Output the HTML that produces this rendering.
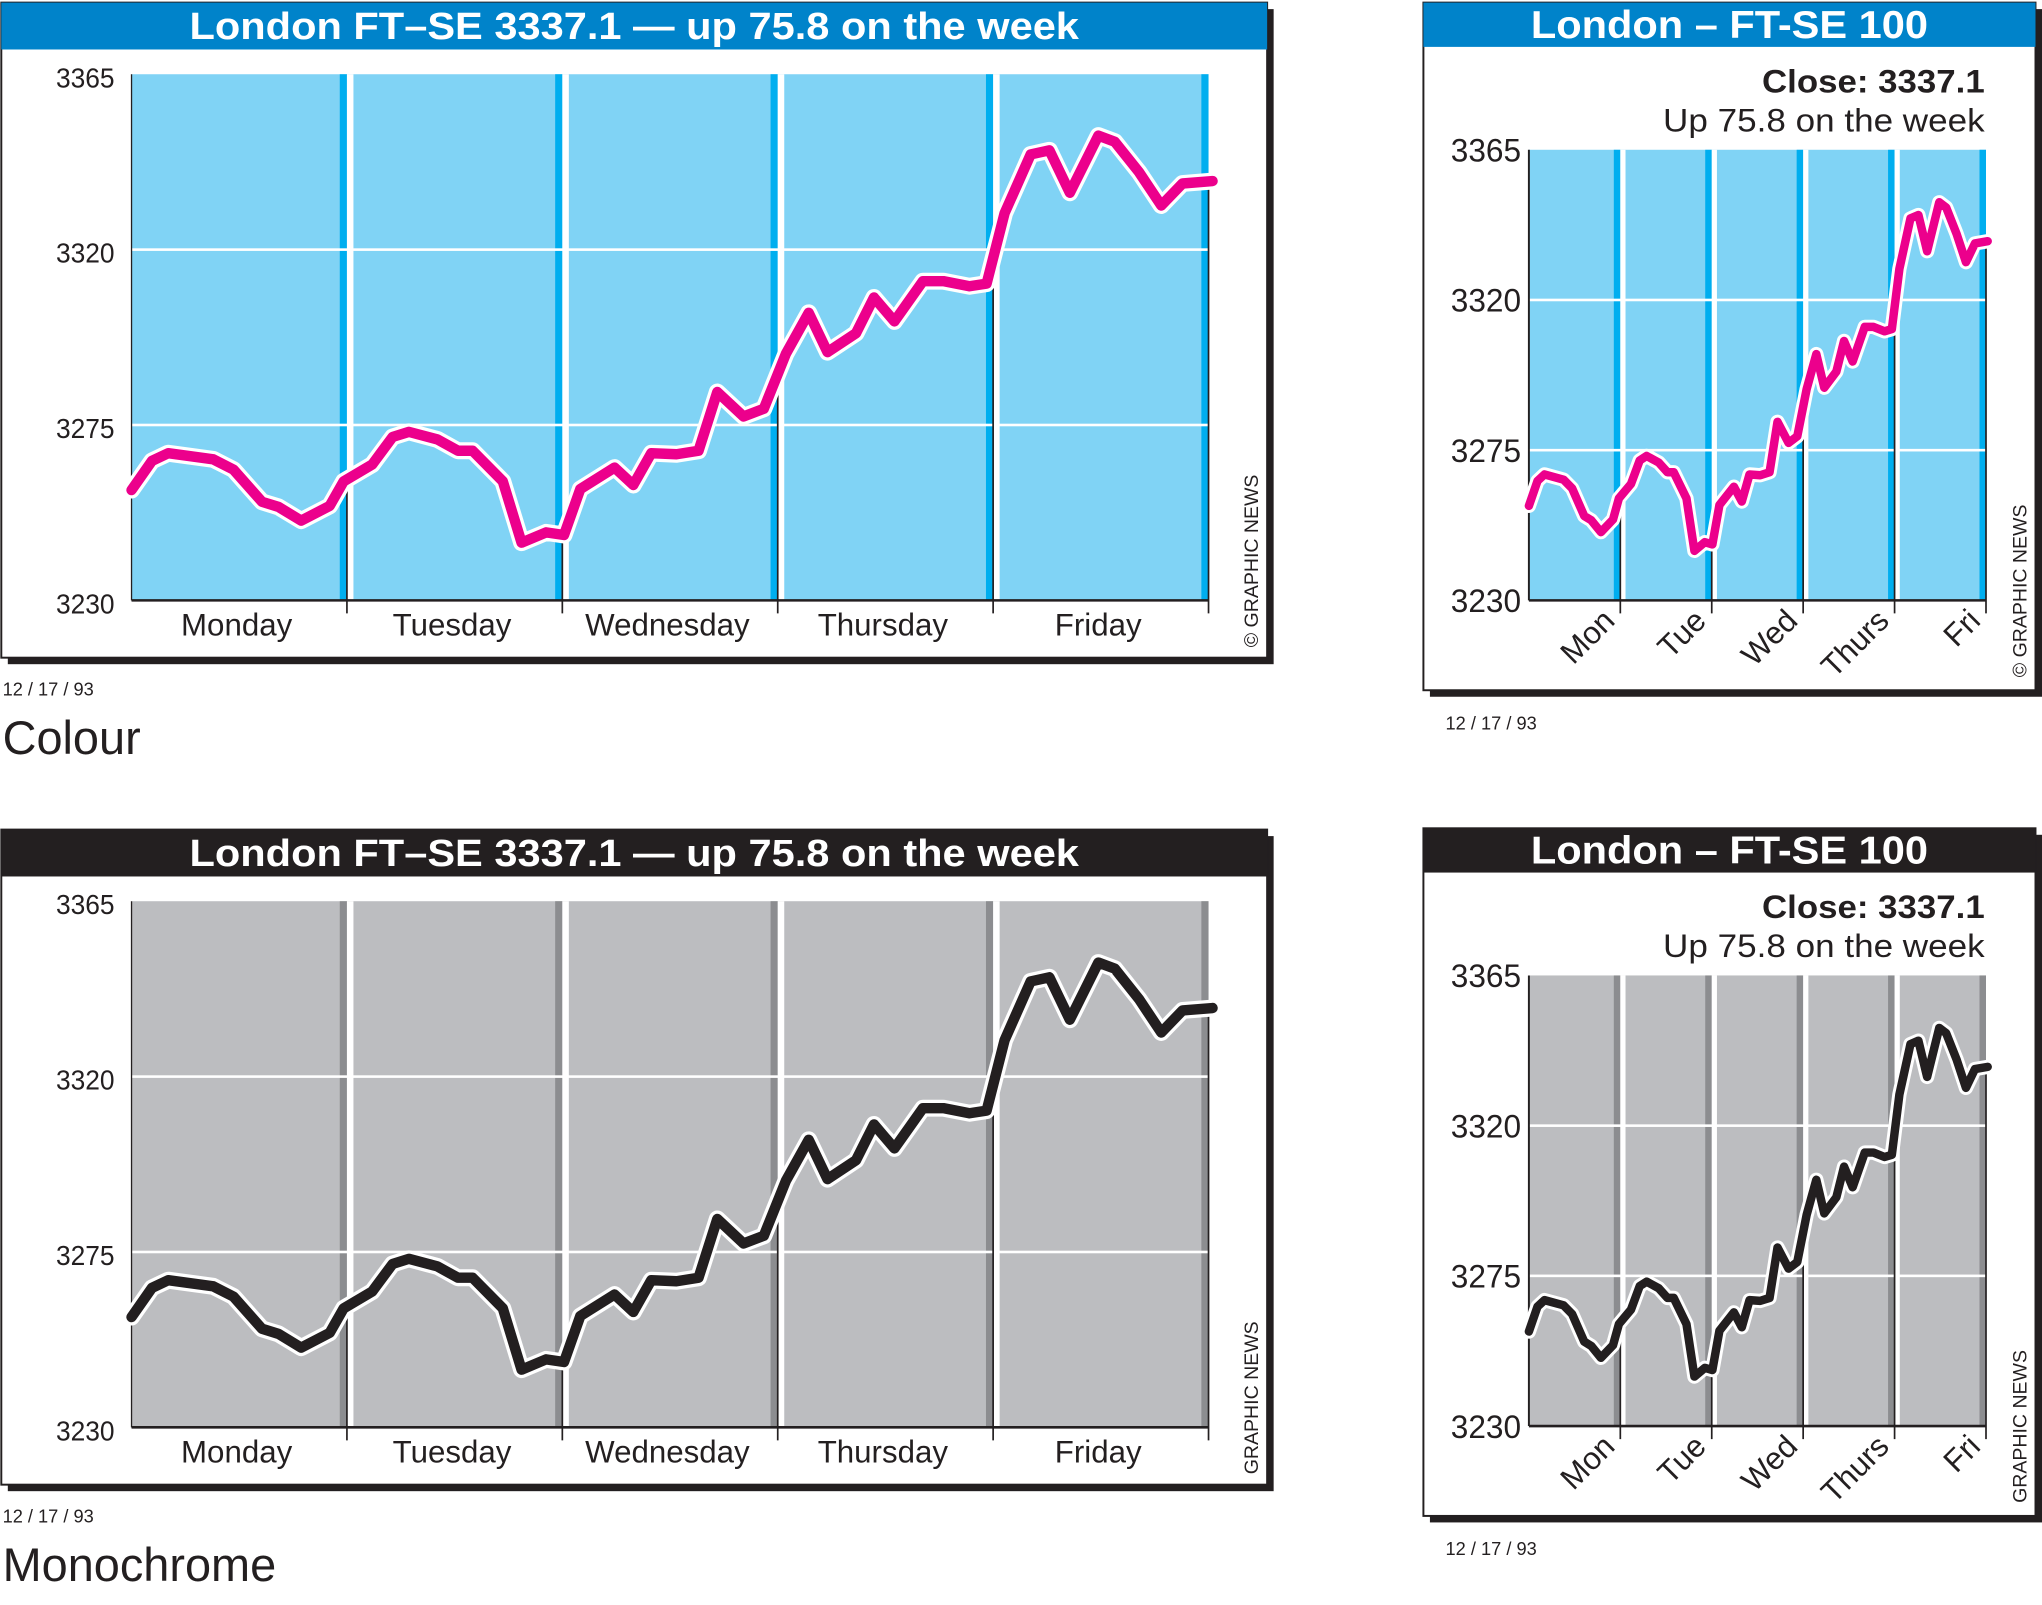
<!DOCTYPE html>
<html><head><meta charset="utf-8"><style>
html,body{margin:0;padding:0;background:#fff;}
svg{display:block;font-family:"Liberation Sans",Arial,sans-serif;}
</style></head><body>
<svg id="s" xmlns="http://www.w3.org/2000/svg" width="2042" height="1605" viewBox="0 0 1568 1232.4" preserveAspectRatio="none"></svg>
<script>
const P=[[160,962],[185,905],[205,890],[260,902],[285,922],[320,985],[340,995],[368,1022],[403,993],[420,945],[455,912],[480,858],[500,848],[535,863],[560,885],[578,885],[615,945],[638,1065],[668,1045],[690,1050],[710,960],[752,918],[775,952],[797,890],[828,892],[855,885],[878,770],[910,818],[935,803],[962,695],[990,615],[1013,692],[1048,655],[1070,585],[1095,632],[1130,553],[1155,553],[1187,563],[1208,558],[1230,420],[1262,305],[1285,297],[1310,380],[1345,268],[1365,280],[1395,340],[1422,405],[1448,362],[1485,357]];
const D=P.map(([x,y])=>[(x-160)/1320,3365-(y-148)*135/1030]);
let o='';
function chart(big,oy,mono){
  const C=mono?{bar:'#231f20',bg:'#bcbdc0',st:'#8c8d90',ln:'#231f20'}:{bar:'#0083ca',bg:'#80d3f5',st:'#00aeef',ln:'#ec008c'};
  let fx,fw,fh,x0,x1,y0,y1,gap,sw;
  if(big){fx=1;fw=972;fh=503;x0=101;x1=928;y0=57;y1=461;sw=5.5;gap=5;}
  else{fx=1093;fw=470;fh=528;x0=1174;x1=1525;y0=115;y1=461;sw=5;gap=4;}
  const fy=2+oy;y0+=oy;y1+=oy;
  o+=`<rect x="${fx+5}" y="${fy+5}" width="${fw}" height="${fh}" fill="#231f20"/>`;
  o+=`<rect x="${fx}" y="${fy}" width="${fw}" height="${fh}" fill="#fff" stroke="#231f20" stroke-width="1.5"/>`;
  const bh=big?36:34;
  o+=`<rect x="${fx}" y="${fy}" width="${fw}" height="${bh}" fill="${C.bar}"/>`;
  if(big){
    o+=`<text x="487" y="${fy+28}" text-anchor="middle" font-size="29" font-weight="bold" fill="#fff" textLength="683" lengthAdjust="spacingAndGlyphs">London FT–SE 3337.1 — up 75.8 on the week</text>`;
  }else{
    o+=`<text x="1328" y="${fy+27}" text-anchor="middle" font-size="30" font-weight="bold" fill="#fff" textLength="305" lengthAdjust="spacingAndGlyphs">London – FT-SE 100</text>`;
    o+=`<text x="1524" y="${fy+69}" text-anchor="end" font-size="25" font-weight="bold" fill="#231f20" textLength="171" lengthAdjust="spacingAndGlyphs">Close: 3337.1</text>`;
    o+=`<text x="1524" y="${fy+99}" text-anchor="end" font-size="25" fill="#231f20" textLength="247" lengthAdjust="spacingAndGlyphs">Up 75.8 on the week</text>`;
  }
  const cw=(x1-x0)/5;
  const Y=v=>y1-(v-3230)/135*(y1-y0);
  const X=t=>x0+t*(x1-x0);
  o+=`<rect x="${x0}" y="${y0}" width="${x1-x0}" height="${y1-y0}" fill="${C.bg}"/>`;
  for(let i=1;i<=5;i++){const b=x0+i*cw;
    o+=`<rect x="${b-sw}" y="${y0}" width="${sw}" height="${y1-y0}" fill="${C.st}"/>`;
    if(i<5)o+=`<rect x="${b}" y="${y0}" width="${gap}" height="${y1-y0}" fill="#fff"/>`;}
  [3320,3275].forEach(v=>{o+=`<rect x="${x0}" y="${Y(v)-1}" width="${x1-x0}" height="2" fill="#fff"/>`;});
  function valAt(t){for(let k=1;k<D.length;k++){if(D[k][0]>=t){const a=D[k-1],b=D[k];return a[1]+(b[1]-a[1])*(t-a[0])/(b[0]-a[0]);}}return D[D.length-1][1];}
  for(let i=1;i<=5;i++){const b=x0+i*cw;const top=Y(valAt(Math.min(1,i/5)));
    o+=`<line x1="${b}" y1="${top}" x2="${b}" y2="${y1+10}" stroke="#231f20" stroke-width="1.3"/>`;}
  o+=`<line x1="${x0}" y1="${y1}" x2="${x1}" y2="${y1}" stroke="#231f20" stroke-width="2"/>`;
  o+=`<line x1="${x0}" y1="${y0}" x2="${x0}" y2="${y1}" stroke="#231f20" stroke-width="${big?1:1.5}"/>`;
  [3365,3320,3275,3230].forEach(v=>{
    if(big)o+=`<text x="88" y="${Y(v)+10}" text-anchor="end" font-size="21" fill="#231f20" textLength="45" lengthAdjust="spacingAndGlyphs">${v}</text>`;
    else o+=`<text x="1168" y="${Y(v)+9}" text-anchor="end" font-size="25" fill="#231f20" textLength="54" lengthAdjust="spacingAndGlyphs">${v}</text>`;});
  const pts=D.map(([t,v])=>X(t).toFixed(1)+','+Y(v).toFixed(1)).join(' ');
  o+=`<polyline points="${pts}" fill="none" stroke="#fff" stroke-width="${big?13:11}" stroke-linejoin="round" stroke-linecap="round"/>`;
  o+=`<polyline points="${pts}" fill="none" stroke="${C.ln}" stroke-width="${big?8:6.5}" stroke-linejoin="round" stroke-linecap="round"/>`;
  if(big){
    ['Monday','Tuesday','Wednesday','Thursday','Friday'].forEach((d,i)=>{
      o+=`<text x="${x0+cw*(i+0.5)-2}" y="${y1+27}" text-anchor="middle" font-size="24" fill="#231f20">${d}</text>`;});
    o+=`<text transform="translate(966,${497+oy}) rotate(-90)" font-size="15" fill="#231f20">${mono?'GRAPHIC NEWS':'© GRAPHIC NEWS'}</text>`;
    o+=`<text x="2" y="${534+oy}" font-size="14" fill="#231f20">12 / 17 /  93</text>`;
    o+=`<text x="2" y="${579+oy}" font-size="36" fill="#231f20">${mono?'Monochrome':'Colour'}</text>`;
  }else{
    ['Mon','Tue','Wed','Thurs','Fri'].forEach((d,i)=>{const b=x0+(i+1)*cw;
      o+=`<text transform="translate(${b-3},${y1+17}) rotate(-45)" text-anchor="end" font-size="24" fill="#231f20">${d}</text>`;});
    o+=`<text transform="translate(1556,${520+oy}) rotate(-90)" font-size="15" fill="#231f20">${mono?'GRAPHIC NEWS':'© GRAPHIC NEWS'}</text>`;
    o+=`<text x="1110" y="${560+oy}" font-size="14" fill="#231f20">12 / 17 /  93</text>`;
  }
}
chart(true,0,false);chart(false,0,false);chart(true,635,true);chart(false,634,true);
document.getElementById('s').innerHTML=o;
</script>
</body></html>
